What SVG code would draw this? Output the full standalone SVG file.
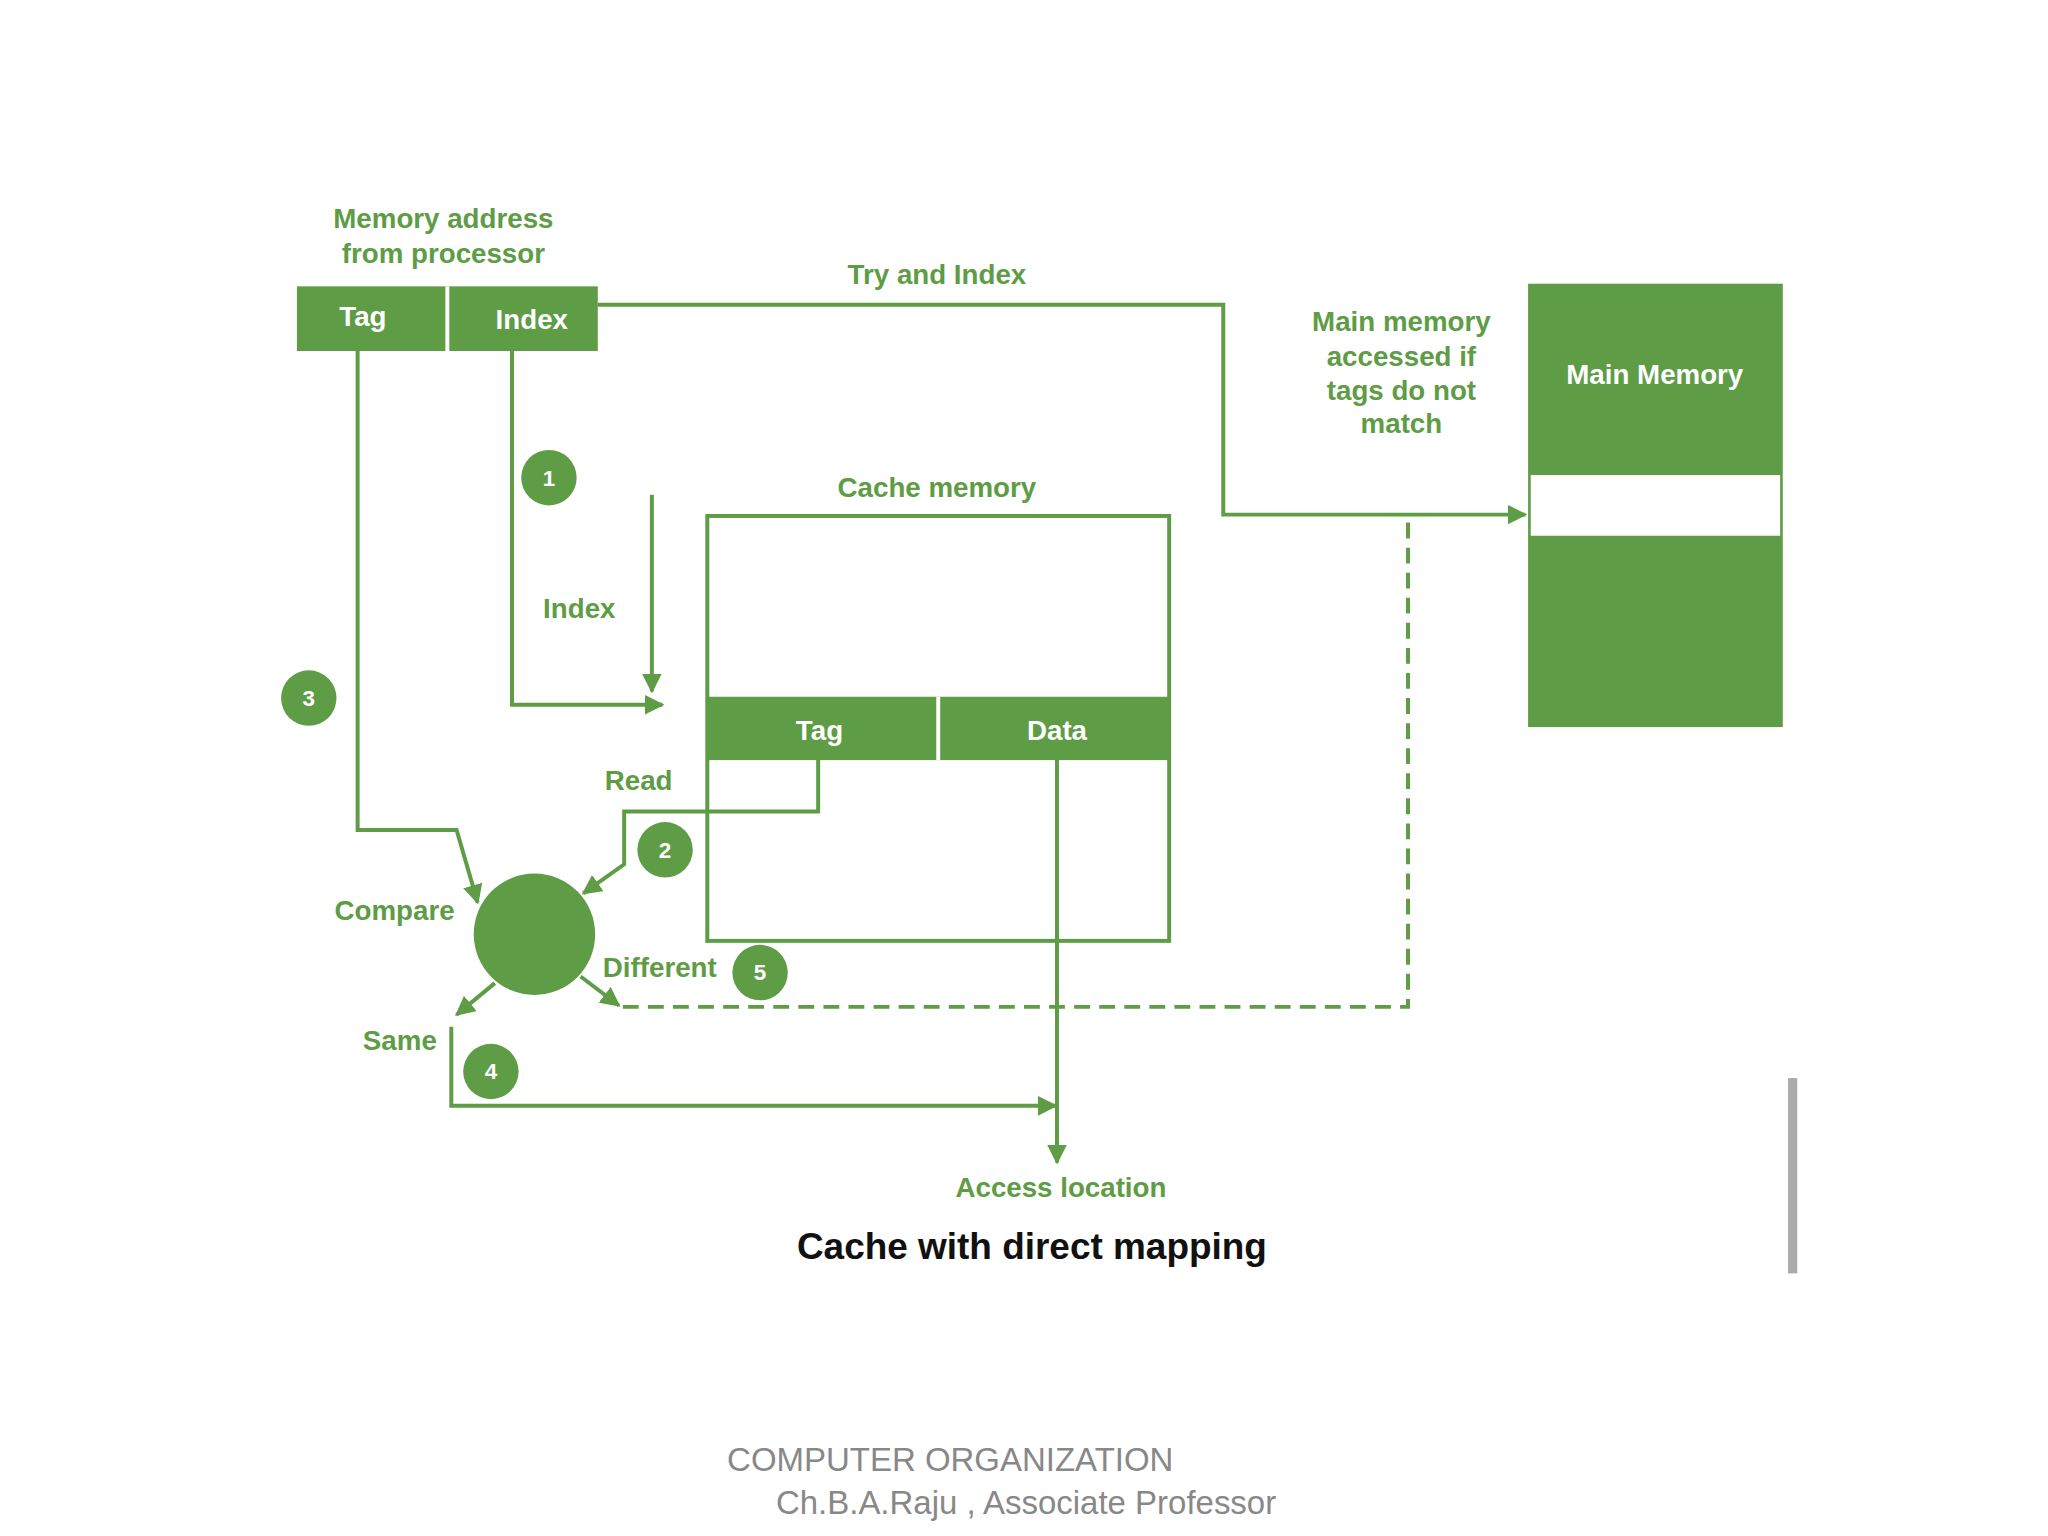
<svg xmlns="http://www.w3.org/2000/svg" width="2048" height="1536" viewBox="0 0 2048 1536">
<style>
.l{fill:none;stroke:#5e9c45;stroke-width:3}
.d{stroke-dasharray:12 7}
.g{fill:#5e9c45}
.t{font-family:"Liberation Sans",Arial,sans-serif;font-weight:bold;font-size:21px;fill:#5e9c45;text-anchor:middle}
.w{fill:#fff}
.n{font-family:"Liberation Sans",Arial,sans-serif;font-weight:bold;font-size:17px;fill:#fff;text-anchor:middle}
.f{font-family:"Liberation Sans",Arial,sans-serif;font-size:25px;fill:#888}
</style>
<defs><marker id="a" viewBox="0 0 10 10" refX="9" refY="5" markerWidth="5" markerHeight="5" orient="auto"><path d="M0,0L10,5L0,10z" fill="#5e9c45"/></marker></defs>
<rect width="2048" height="1536" fill="#fff"/>
<g transform="scale(1.3196)">
<g id="connectors">
<path class="l" d="M453,231H927V390H1156" marker-end="url(#a)"/>
<path class="l" d="M388,266V534H502" marker-end="url(#a)"/>
<path class="l" d="M494,375V524" marker-end="url(#a)"/>
<path class="l" d="M271,266V629H346L362,684" marker-end="url(#a)"/>
<path class="l" d="M620,576V615H473V655L442,677" marker-end="url(#a)"/>
<path class="l" d="M375,745L346,769" marker-end="url(#a)"/>
<path class="l" d="M440,740L469,762" marker-end="url(#a)"/>
<path class="l d" d="M472,763H1067V392"/>
<path class="l" d="M342,778V838H800" marker-end="url(#a)"/>
<path class="l" d="M801,576V881" marker-end="url(#a)"/>
</g>
<g id="address">
<text class="t" x="336" y="173">Memory address</text>
<text class="t" x="336" y="199">from processor</text>
<rect class="g" x="225" y="217" width="228" height="49"/>
<line x1="339" y1="217" x2="339" y2="266" stroke="#fff" stroke-width="3"/>
<text class="t w" x="275" y="247">Tag</text>
<text class="t w" x="403" y="249">Index</text>
<text class="t" x="710" y="215">Try and Index</text>
</g>
<g id="mainmemory">
<text class="t" x="1062" y="251">Main memory</text>
<text class="t" x="1062" y="277">accessed if</text>
<text class="t" x="1062" y="303">tags do not</text>
<text class="t" x="1062" y="328">match</text>
<rect class="g" x="1158" y="215" width="193" height="336"/>
<rect class="w" x="1160" y="360" width="189" height="46"/>
<text class="t w" x="1254" y="291">Main Memory</text>
</g>
<g id="cache">
<text class="t" x="710" y="377">Cache memory</text>
<rect class="l" x="536" y="391" width="350" height="322"/>
<rect class="g" x="536" y="528" width="350" height="48"/>
<line x1="711" y1="528" x2="711" y2="576" stroke="#fff" stroke-width="3"/>
<text class="t w" x="621" y="561">Tag</text>
<text class="t w" x="801" y="561">Data</text>
</g>
<g id="labels">
<text class="t" x="439" y="468">Index</text>
<text class="t" x="484" y="599">Read</text>
<text class="t" x="299" y="697">Compare</text>
<text class="t" x="500" y="740">Different</text>
<text class="t" x="303" y="796">Same</text>
<text class="t" x="804" y="907">Access location</text>
</g>
<g id="compare"><circle class="g" cx="405" cy="708" r="46"/></g>
<g id="badges">
<circle class="g" cx="416" cy="362" r="21"/><text class="n" x="416" y="368">1</text>
<circle class="g" cx="504" cy="644" r="21"/><text class="n" x="504" y="650">2</text>
<circle class="g" cx="234" cy="529" r="21"/><text class="n" x="234" y="535">3</text>
<circle class="g" cx="372" cy="812" r="21"/><text class="n" x="372" y="818">4</text>
<circle class="g" cx="576" cy="737" r="21"/><text class="n" x="576" y="743">5</text>
</g>
<text x="782" y="954" font-family="Liberation Sans,Arial,sans-serif" font-weight="bold" font-size="28" text-anchor="middle" fill="#111">Cache with direct mapping</text>
<rect x="1355" y="817" width="7" height="148" fill="#aaa"/>
<text class="f" x="551" y="1115">COMPUTER ORGANIZATION</text>
<text class="f" x="588" y="1147">Ch.B.A.Raju , Associate Professor</text>
</g>
</svg>
